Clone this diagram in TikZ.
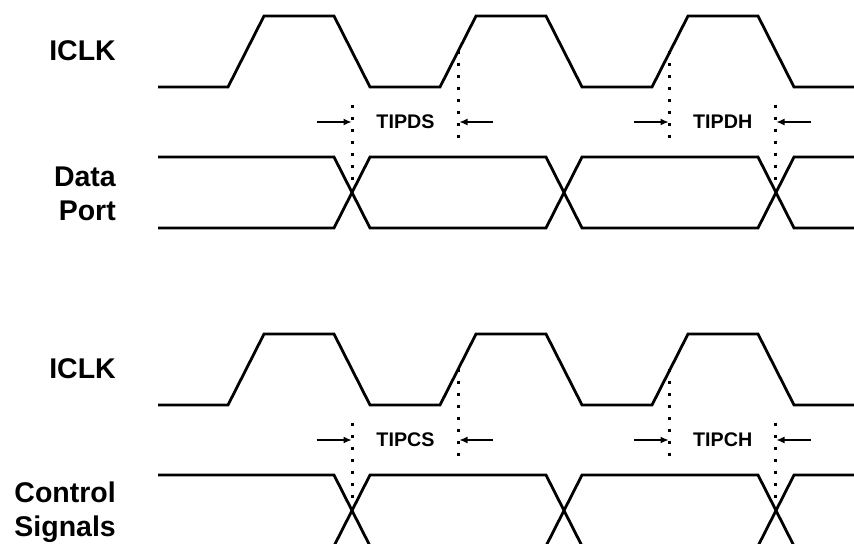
\documentclass[tikz,border=0pt]{standalone}
\usepackage{fontspec}
\setmainfont{Liberation Sans}
\usetikzlibrary{arrows.meta}
\begin{document}
\begin{tikzpicture}[x=1pt,y=-1pt,
  wave/.style={line width=2.8pt},
  dotline/.style={line width=3pt, dash pattern=on 3pt off 9pt},
  dimarrow/.style={line width=1.2pt,-{Latex[length=8pt,width=7pt]}},
  siglabel/.style={font=\fontsize{28.5}{34}\selectfont\bfseries, align=right, inner sep=0pt, anchor=north east},
  timelabel/.style={font=\fontsize{19.7}{23}\selectfont\bfseries, inner sep=0pt}]
\useasboundingbox (0,0) rectangle (854,544);
\clip (0,0) rectangle (854,543);
% signal names
\node[siglabel] (clkA) at (116,40) {ICLK};
\node[siglabel] (data) at (116,166.7) {Data\\Port};
\node[siglabel] (clkB) at (116,358) {ICLK};
\node[siglabel] (ctrl) at (116,482) {Control\\Signals};
\foreach \o/\la/\lb/\p in {0/TIPDS/TIPDH/d,318/TIPCS/TIPCH/c}{
  \begin{scope}[yshift=-\o pt]
    % clock
    \draw[wave] (158,87) -- (228,87) -- (264,16) -- (334,16) -- (370,87) -- (440,87)
      -- (476,16) -- (546,16) -- (582,87) -- (652,87) -- (688,16) -- (758,16) -- (794,87) -- (854,87);
    % data eye
    \draw[wave] (158,157) -- (334,157) -- (370,228) -- (546,228) -- (582,157) -- (758,157) -- (794,228) -- (854,228);
    \draw[wave] (158,228) -- (334,228) -- (370,157) -- (546,157) -- (582,228) -- (758,228) -- (794,157) -- (854,157);
    % setup
    \coordinate (\p s1t) at (352.5,104.5);
    \coordinate (\p s1b) at (352.5,192);
    \coordinate (\p s2t) at (458.5,50.5);
    \coordinate (\p s2b) at (458.5,138);
    \draw[dotline] (\p s1t) -- (\p s1b);
    \draw[dotline] (\p s2t) -- (\p s2b);
    \coordinate (\p sa1) at (316.7,122);
    \coordinate (\p sa1e) at (351.5,122);
    \coordinate (\p sa2) at (493.3,122);
    \coordinate (\p sa2e) at (459.5,122);
    \draw[dimarrow] (\p sa1) -- (\p sa1e);
    \draw[dimarrow] (\p sa2) -- (\p sa2e);
    \node[timelabel] (\p slab) at (405.5,121.5) {\la};
    % hold
    \coordinate (\p h1t) at (669.5,51);
    \coordinate (\p h1b) at (669.5,138.5);
    \coordinate (\p h2t) at (775.5,104.5);
    \coordinate (\p h2b) at (775.5,192);
    \draw[dotline] (\p h1t) -- (\p h1b);
    \draw[dotline] (\p h2t) -- (\p h2b);
    \coordinate (\p ha1) at (634.3,122);
    \coordinate (\p ha1e) at (668.5,122);
    \coordinate (\p ha2) at (811,122);
    \coordinate (\p ha2e) at (776.5,122);
    \draw[dimarrow] (\p ha1) -- (\p ha1e);
    \draw[dimarrow] (\p ha2) -- (\p ha2e);
    \node[timelabel] (\p hlab) at (722.7,121.5) {\lb};
  \end{scope}
}
\end{tikzpicture}
\end{document}
